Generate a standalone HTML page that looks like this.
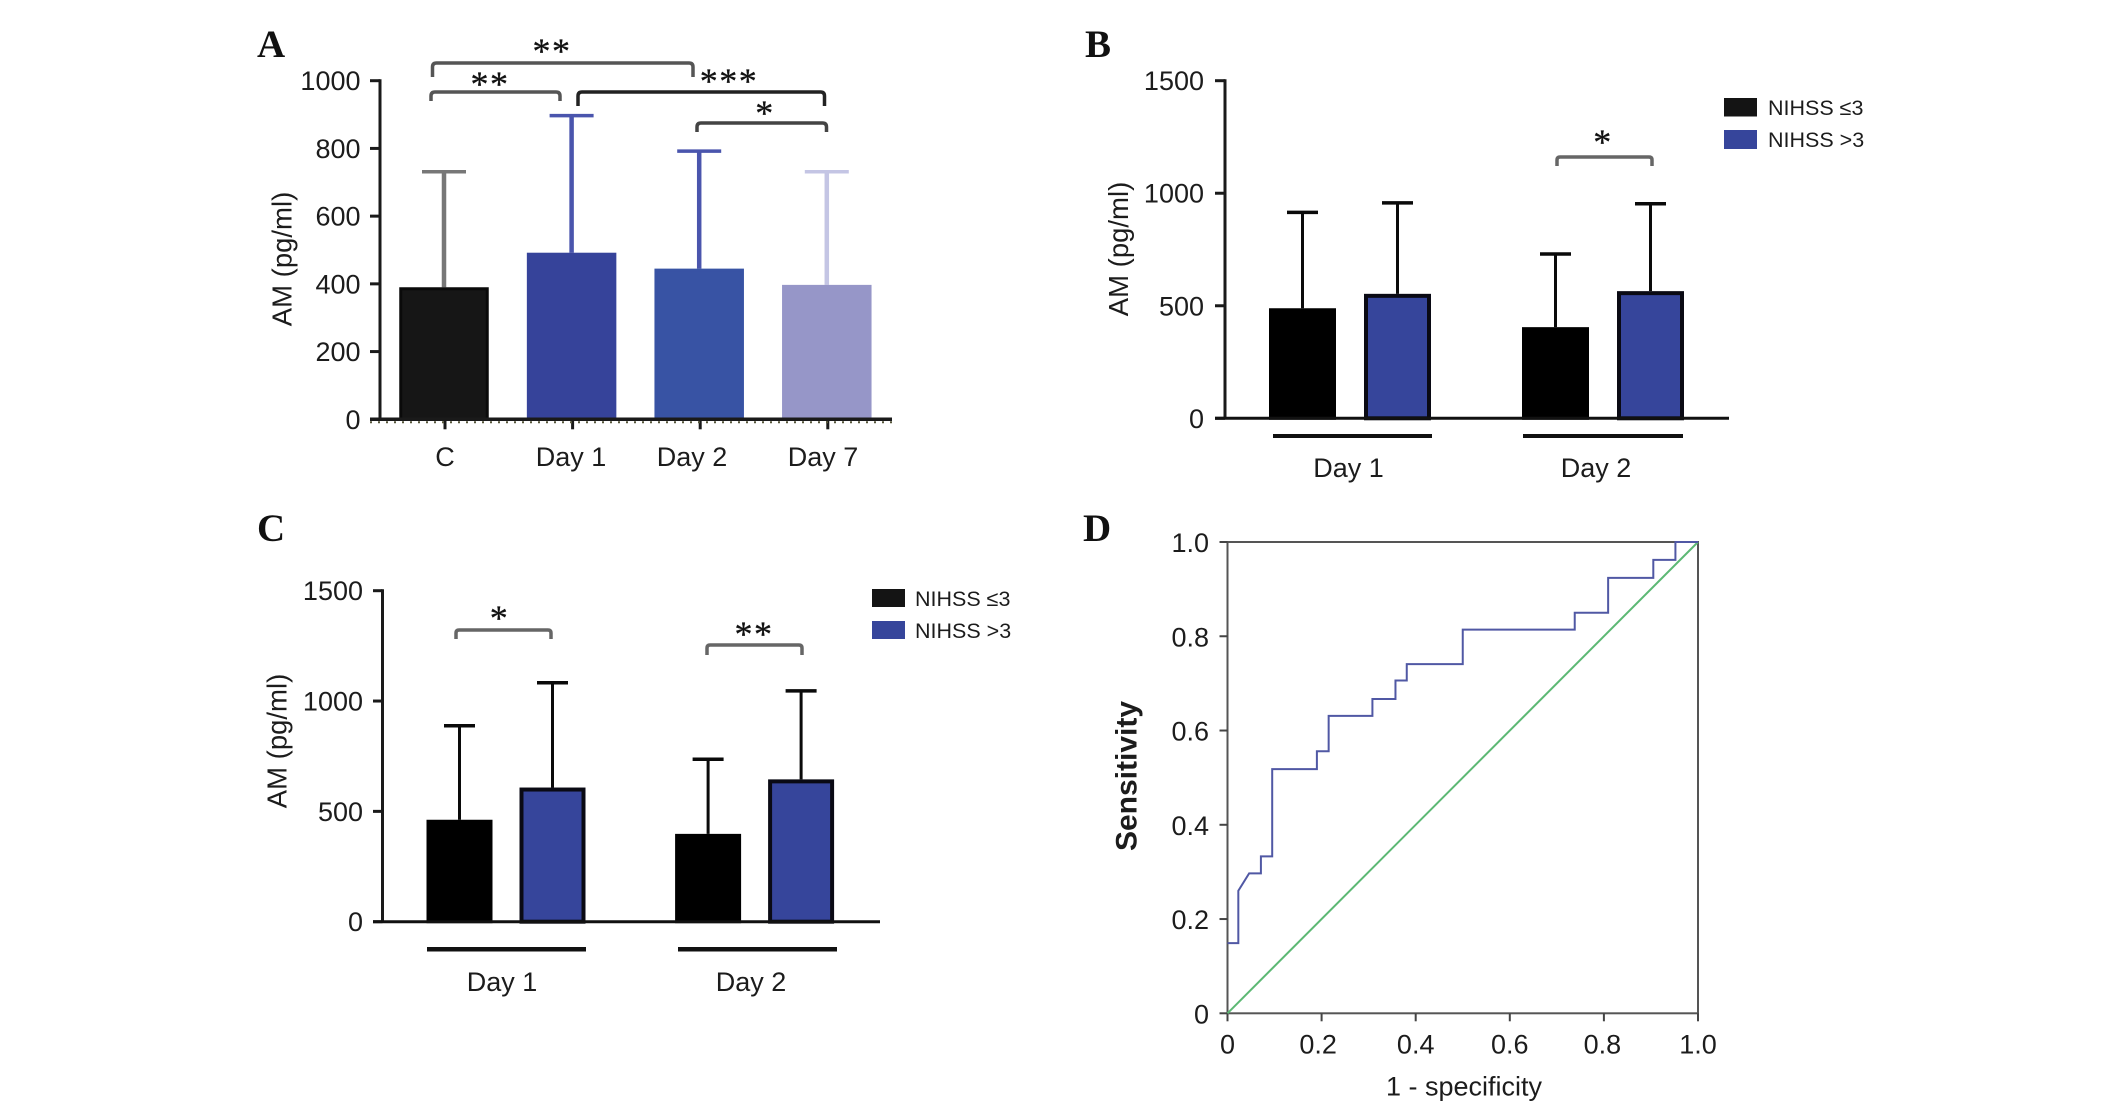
<!DOCTYPE html>
<html lang="en">
<head>
<meta charset="utf-8">
<title>AM levels and ROC curve</title>
<style>
html,body{margin:0;padding:0;background:#fff;width:2126px;height:1101px;overflow:hidden}
svg{display:block}
text{font-family:"Liberation Sans",sans-serif;fill:#1c1c1c}
.panel{font-family:"Liberation Serif",serif;font-weight:bold;font-size:39px;fill:#111}
.star{font-family:"Liberation Serif",serif;font-size:36px;fill:#111;stroke:#111;stroke-width:.3;text-anchor:middle;letter-spacing:1.5px}
.tick{font-size:27px}
.ytitle{font-size:27.5px}
.legend{font-size:21.5px}
.br{fill:none;stroke-width:3.5;stroke-linejoin:round}
</style>
</head>
<body>
<svg id="fig" xmlns="http://www.w3.org/2000/svg" width="2126" height="1101" viewBox="0 0 2126 1101">
  <rect x="0" y="0" width="2126" height="1101" fill="#fff"/>

  <text class="panel" x="257" y="57">A</text>
  <text class="panel" x="1085" y="57">B</text>
  <text class="panel" x="257" y="541">C</text>
  <text class="panel" x="1083" y="541">D</text>

  <g id="panelA"></g>
  <g id="panelB"></g>
  <g id="panelC"></g>
  <g id="panelD"></g>

  <text class="ytitle" transform="translate(291.5,259) rotate(-90)" text-anchor="middle">AM (pg/ml)</text>
  <text class="ytitle" transform="translate(1128,249) rotate(-90)" text-anchor="middle">AM (pg/ml)</text>
  <text class="ytitle" transform="translate(286.5,741) rotate(-90)" text-anchor="middle">AM (pg/ml)</text>
  <text transform="translate(1136.5,776) rotate(-90)" text-anchor="middle" font-size="30" font-weight="bold">Sensitivity</text>
  <text x="1464" y="1095.5" text-anchor="middle" font-size="27">1 - specificity</text>

  <path class="br" stroke="#555" d="M432.5 77V67Q432.5 63 436.5 63H689Q693 63 693 67V77"/>
  <path class="br" stroke="#555" d="M431 101V96Q431 92 435 92H556Q560 92 560 96V101"/>
  <path class="br" stroke="#222" d="M578 106V96Q578 92 582 92H820.5Q824.5 92 824.5 96V106"/>
  <path class="br" stroke="#444" d="M697 132V127Q697 123 701 123H822.5Q826.5 123 826.5 127V132"/>
  <text class="star" x="552" y="63">**</text>
  <text class="star" x="490" y="96">**</text>
  <text class="star" x="729" y="93">***</text>
  <text class="star" x="765" y="125">*</text>

  <path class="br" stroke="#666" d="M1557 166V160Q1557 157 1560 157H1649Q1652 157 1652 160V166"/>
  <text class="star" x="1603" y="154">*</text>
  <rect x="1273" y="434" width="159" height="4" fill="#111"/>
  <rect x="1523" y="434" width="160" height="4" fill="#111"/>
  <rect x="1724" y="98" width="33" height="18.5" fill="#141414"/>
  <rect x="1724" y="130" width="33" height="19" fill="#36459b"/>
  <text class="legend" x="1768" y="115">NIHSS ≤3</text>
  <text class="legend" x="1768" y="147">NIHSS &gt;3</text>

  <path class="br" stroke="#666" d="M456 639V633Q456 630 459 630H548Q551 630 551 633V639"/>
  <path class="br" stroke="#666" d="M707 655V648Q707 645 710 645H799Q802 645 802 648V655"/>
  <text class="star" x="499.5" y="630">*</text>
  <text class="star" x="754" y="646">**</text>
  <rect x="427" y="947" width="159" height="4.5" fill="#111"/>
  <rect x="678" y="947" width="159" height="4.5" fill="#111"/>
  <rect x="872" y="589" width="33" height="18" fill="#141414"/>
  <rect x="872" y="621" width="33" height="18" fill="#36459b"/>
  <text class="legend" x="915" y="606">NIHSS ≤3</text>
  <text class="legend" x="915" y="638">NIHSS &gt;3</text>
</svg>

<script>
// Panel A data
const aCategories = ['C', 'Day 1', 'Day 2', 'Day 7'];
const aMeans = [390, 492, 445, 397];
const aUpper = [731, 897, 792, 731];
const aTicks = [0, 200, 400, 600, 800, 1000];

// Panel B data
const bGroups = ['Day 1', 'Day 2'];
const bLowMeans = [489, 405];
const bLowUpper = [915, 730];
const bHighMeans = [553, 565];
const bHighUpper = [957, 953];
const bTicks = [0, 500, 1000, 1500];

// Panel C data
const cGroups = ['Day 1', 'Day 2'];
const cLowMeans = [462, 398];
const cLowUpper = [888, 736];
const cHighMeans = [608, 645];
const cHighUpper = [1083, 1046];
const cTicks = [0, 500, 1000, 1500];

// Panel D data
const rocFpr = [0, 0.023, 0.023, 0.046, 0.071, 0.071, 0.095, 0.095, 0.19, 0.19, 0.215, 0.215, 0.308, 0.308, 0.357, 0.357, 0.381, 0.381, 0.5, 0.5, 0.738, 0.738, 0.809, 0.809, 0.905, 0.905, 0.952, 0.952, 1];
const rocTpr = [0.149, 0.149, 0.26, 0.297, 0.297, 0.333, 0.333, 0.518, 0.518, 0.556, 0.556, 0.631, 0.631, 0.667, 0.667, 0.706, 0.706, 0.741, 0.741, 0.814, 0.814, 0.85, 0.85, 0.924, 0.924, 0.962, 0.962, 1, 1];
const refFpr = [0, 1];
const refTpr = [0, 1];
const dTicksX = [0, 0.2, 0.4, 0.6, 0.8, 1];
const dTicksY = [0, 0.2, 0.4, 0.6, 0.8, 1];

const NS = 'http://www.w3.org/2000/svg';
function make(parent, tag, props, txt) {
  const n = document.createElementNS(NS, tag);
  for (const k in props) n.setAttribute(k, props[k]);
  if (txt !== undefined) n.textContent = txt;
  parent.appendChild(n);
  return n;
}
function slug(s) { return String(s).toLowerCase().replace(/[^a-z0-9]+/g, '-'); }
function fmt(v) { return v === 0 ? '0' : v.toFixed(1); }

const xA = i => 444 + i * 127.6;
const yA = v => 419.3 - v / 1000 * 338.6;
const yB = v => 418.3 - v / 1500 * 337.6;
const yC = v => 921.7 - v / 1500 * 331;
const xBGroup = (g, s) => 1350 + g * 253 + (s - 0.5) * 95;
const xCGroup = (g, s) => 506 + g * 248.6 + (s - 0.5) * 93;
const xD = v => 1227.5 + v * 470.5;
const yD = v => 1013.3 - v * 471.3;

function drawYAxis(g, pre, ticks, yFn, axisX, tickFrom, labelRight) {
  const line = make(g, 'line', {x1: axisX, x2: axisX, y1: yFn(ticks[ticks.length - 1]) - 1.5, y2: yFn(0), stroke: '#1a1a1a', 'stroke-width': 3});
  
  
  ticks.forEach(t => {
    const tk = make(g, 'line', {x1: tickFrom, x2: axisX, y1: yFn(t), y2: yFn(t), stroke: '#1a1a1a', 'stroke-width': 3});
    
    
    const lb = make(g, 'text', {class: 'tick', x: labelRight, y: yFn(t) + 9.5, 'text-anchor': 'end'}, t);
    
    
  });
}
function drawBar(g, name, cx, w, yTop, yBase, yErr, fill, edge, edgeW, errColor, stemW, capW, capH) {
  const stem = make(g, 'line', {x1: cx, x2: cx, y1: yErr, y2: yTop, stroke: errColor, 'stroke-width': stemW});
  
  
  const cap = make(g, 'line', {x1: cx - capW / 2, x2: cx + capW / 2, y1: yErr, y2: yErr, stroke: errColor, 'stroke-width': capH});
  
  
  const r = make(g, 'rect', {x: cx - w / 2 + edgeW / 2, y: yTop + edgeW / 2, width: w - edgeW, height: yBase - yTop - edgeW / 2, fill: fill, stroke: edge, 'stroke-width': edgeW});
  
  
}

// Panel A
const gA = document.getElementById('panelA');
const aFills = ['#161616', '#36439a', '#3853a4', '#9696c8'];
const aEdges = ['#0a0a0a', '#36439a', '#3853a4', '#9696c8'];
const aErrs = ['#777777', '#4a55ad', '#4a55ad', '#c4c5e4'];
const aLabelShift = [1, -0.6, -7.2, -3.8];
aCategories.forEach((c, i) => {
  drawBar(gA, 'bar-a-' + slug(c), xA(i), 89.5, yA(aMeans[i]), yA(0), yA(aUpper[i]), aFills[i], aEdges[i], 3, aErrs[i], 4.5, 44, 3.5);
  const tk = make(gA, 'line', {x1: xA(i) + 1, x2: xA(i) + 1, y1: yA(0), y2: yA(0) + 10, stroke: '#1a1a1a', 'stroke-width': 3});
  
  
  const lb = make(gA, 'text', {class: 'tick', x: xA(i) + aLabelShift[i], y: 466, 'text-anchor': 'middle'}, c);
  
  
});
drawYAxis(gA, 'panel-a', aTicks, yA, 380, 370, 360.5);
const xaA = make(gA, 'line', {x1: 370, x2: 892, y1: yA(0), y2: yA(0), stroke: '#1a1a1a', 'stroke-width': 3.5});


const dotsA = make(gA, 'line', {x1: 370, x2: 892, y1: yA(0) + 3, y2: yA(0) + 3, stroke: '#55553a', 'stroke-width': 2, 'stroke-dasharray': '2 6'});



// Panels B and C
function drawGrouped(g, pre, groups, low, lowUp, high, highUp, ticks, yFn, xFn, barW, axisX, tickFrom, labelRight, axisFrom, axisTo, labelY, labelShift) {
  groups.forEach((name, i) => {
    drawBar(g, 'bar-' + pre + '-' + slug(name) + '-low', xFn(i, 0), barW, yFn(low[i]), yFn(0), yFn(lowUp[i]), '#000', '#000', 3, '#0a0a0a', 3, 31, 3.5);
    drawBar(g, 'bar-' + pre + '-' + slug(name) + '-high', xFn(i, 1), barW, yFn(high[i]), yFn(0), yFn(highUp[i]), '#36459b', '#0a0a14', 4, '#0a0a0a', 3, 31, 3.5);
    const lb = make(g, 'text', {class: 'tick', x: (xFn(i, 0) + xFn(i, 1)) / 2 + labelShift[i], y: labelY, 'text-anchor': 'middle'}, name);
    
    
  });
  drawYAxis(g, 'panel-' + pre, ticks, yFn, axisX, tickFrom, labelRight);
  const xa = make(g, 'line', {x1: axisFrom, x2: axisTo, y1: yFn(0), y2: yFn(0), stroke: '#111', 'stroke-width': 3});
  
  
}
drawGrouped(document.getElementById('panelB'), 'b', bGroups, bLowMeans, bLowUpper, bHighMeans, bHighUpper, bTicks, yB, xBGroup, 67, 1225, 1215, 1204, 1215, 1729, 477, [-1.5, -7]);
drawGrouped(document.getElementById('panelC'), 'c', cGroups, cLowMeans, cLowUpper, cHighMeans, cHighUpper, cTicks, yC, xCGroup, 66, 382.5, 373, 363, 373, 880, 991, [-4, -3.6]);

// Panel D
const gD = document.getElementById('panelD');
const frame = make(gD, 'rect', {x: xD(0), y: yD(1), width: xD(1) - xD(0), height: yD(0) - yD(1), fill: 'none', stroke: '#555', 'stroke-width': 2});


dTicksY.forEach(t => {
  const tk = make(gD, 'line', {x1: xD(0) - 8, x2: xD(0), y1: yD(t), y2: yD(t), stroke: '#444', 'stroke-width': 2});
  
  
  const lb = make(gD, 'text', {x: 1209, y: yD(t) + 10, 'text-anchor': 'end', 'font-size': 27}, fmt(t));
  
  
});
const dLabelShift = [0, -3.5, 0, 0, -1.5, 0];
dTicksX.forEach((t, i) => {
  const tk = make(gD, 'line', {x1: xD(t), x2: xD(t), y1: yD(0), y2: yD(0) + 8, stroke: '#444', 'stroke-width': 2});
  
  
  const lb = make(gD, 'text', {x: xD(t) + dLabelShift[i], y: 1053.5, 'text-anchor': 'middle', 'font-size': 27}, fmt(t));
  
  
});
const refLine = make(gD, 'polyline', {points: refFpr.map((x, i) => xD(x) + ',' + yD(refTpr[i])).join(' '), fill: 'none', stroke: '#5cb874', 'stroke-width': 2});


const rocLine = make(gD, 'polyline', {points: rocFpr.map((x, i) => xD(x) + ',' + yD(rocTpr[i])).join(' '), fill: 'none', stroke: '#5058a4', 'stroke-width': 2});


</script>
</body>
</html>
